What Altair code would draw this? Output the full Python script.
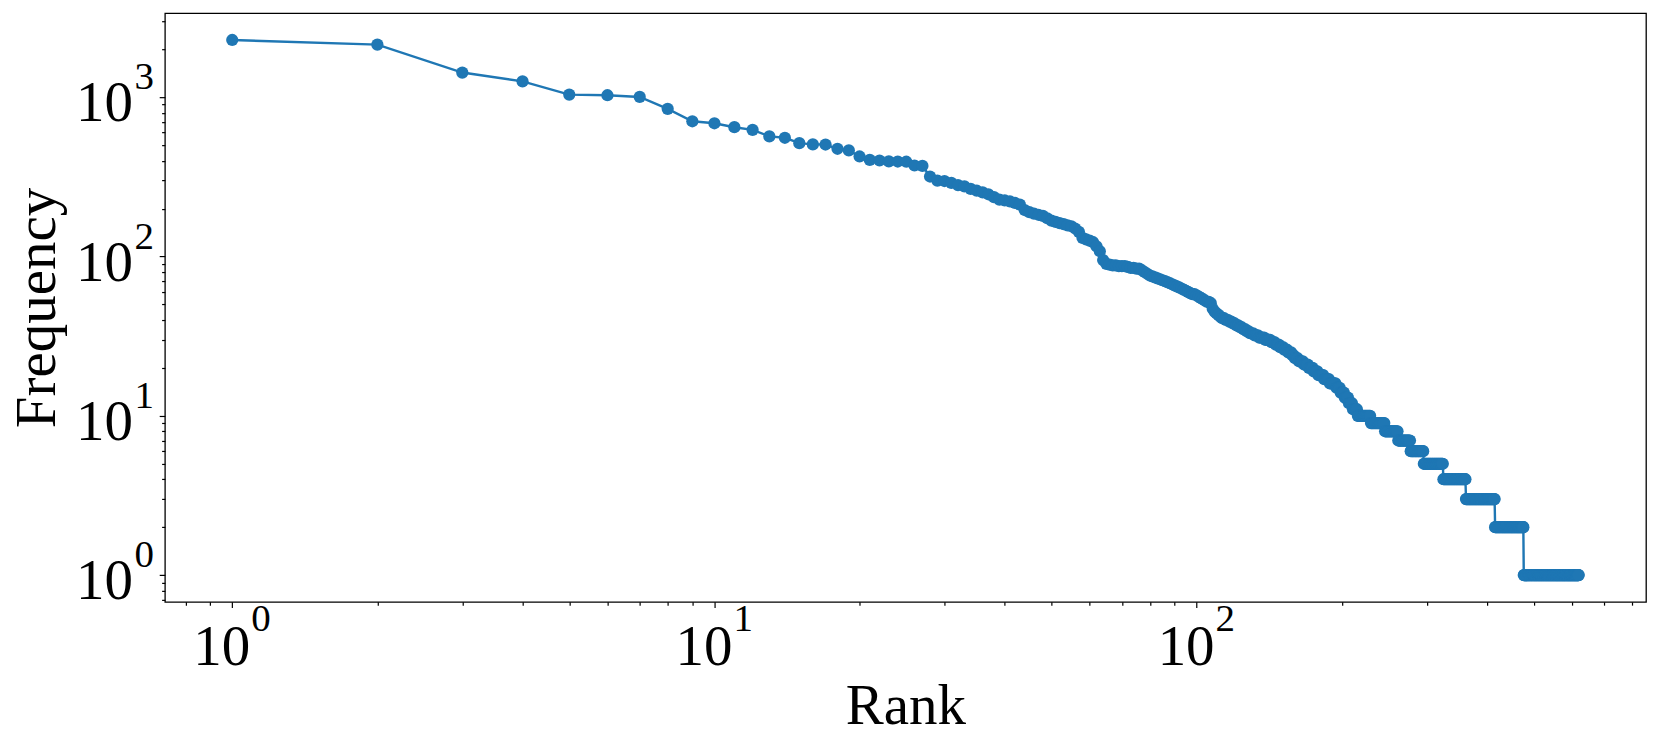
import altair as alt
import numpy as np
import pandas as pd

# Frequencies of ranks 1..114
head_freq = [2290, 2140, 1430, 1260, 1040, 1030, 1005, 846, 707, 687,
             649, 625, 568, 557, 515, 506, 505, 475, 464, 425,
             405, 401, 396, 395, 394, 373, 371, 318, 300, 298,
             290, 281, 276, 266, 259, 253, 246, 236, 228, 225,
             222, 217, 212, 196, 190, 186, 183, 180, 174, 168,
             165, 162, 160, 157, 155, 150, 143, 131, 128, 126,
             123, 116, 108, 95, 90, 89, 88, 88, 87, 87,
             87, 86, 85, 85, 84, 84, 82, 80, 78, 76,
             75, 74, 73, 72, 71, 70, 69, 68, 67, 66,
             65, 64, 63, 62, 61, 60, 59, 58, 58, 57,
             56, 55, 54, 53, 52, 52, 51, 47, 45, 44,
             43, 42, 41, 41]

# Tail: integer frequency values and how many ranks share each (plateau widths)
tail_freq = [40, 39, 38, 37, 36, 35, 34, 33, 32, 31,
             30, 29, 28, 27, 26, 25, 24, 23, 22, 21,
             20, 19, 18, 17, 16, 15, 14, 13, 12, 11,
             10, 9, 8, 7, 6, 5, 4, 3, 2, 1]
tail_count = [2, 2, 2, 2, 2, 2, 2, 3, 3, 4,
              4, 3, 3, 3, 3, 3, 2, 3, 4, 4,
              4, 4, 5, 5, 6, 4, 4, 4, 4, 5,
              14, 16, 16, 16, 18, 29, 37, 54, 61, 144]

x_tick_major = [1, 10, 100]
x_tick_labels = ["0", "1", "2"]
y_tick_major = [1, 10, 100, 1000]
y_tick_labels = ["0", "1", "2", "3"]

freq = list(head_freq)
for f, c in zip(tail_freq, tail_count):
    freq.extend([f] * c)
rank = list(range(1, len(freq) + 1))
df = pd.DataFrame({"rank": rank, "freq": freq})

W, H = 1482, 589
BLUE = "#1f77b4"
FONT = "Liberation Serif"
FS = 57
FS_EXP = 39

# matplotlib-like 5% margins in log space
lx = np.log10(len(freq))
ly = np.log10(max(freq))
x_dom = [10 ** (-0.05 * lx), 10 ** (1.05 * lx)]
y_dom = [10 ** (-0.05 * ly), 10 ** (1.05 * ly)]

def minor_ticks(lo, hi):
    out = []
    for d in range(-1, 5):
        for m in range(1, 10):
            v = round(m * 10 ** d, 6)
            if lo <= v <= hi:
                out.append(v)
    return out

x_ticks = minor_ticks(x_dom[0], x_dom[1])
y_ticks = minor_ticks(y_dom[0], y_dom[1])
MAJOR = "datum.value === 1 || datum.value === 10 || datum.value === 100 || datum.value === 1000"

xscale = alt.Scale(type="log", domain=x_dom, nice=False)
yscale = alt.Scale(type="log", domain=y_dom, nice=False)

x_axis = alt.Axis(values=x_ticks, labels=False, domain=False, grid=False,
                  tickColor="black", tickWidth=1.2,
                  tickSize={"condition": {"test": MAJOR, "value": 5.7}, "value": 3.3},
                  title="Rank", titleFont=FONT, titleFontSize=FS, titleFontWeight="normal",
                  titleColor="black", titleX=W / 2, titleY=122, titleBaseline="alphabetic",
                  titleAlign="center")
y_axis = alt.Axis(values=y_ticks, labels=False, domain=False, grid=False,
                  tickColor="black", tickWidth=1.2,
                  tickSize={"condition": {"test": MAJOR, "value": 5.7}, "value": 3.3},
                  title="Frequency", titleFont=FONT, titleFontSize=FS, titleFontWeight="normal",
                  titleColor="black", titleX=-110, titleY=H / 2, titleAngle=270,
                  titleBaseline="alphabetic", titleAlign="center")

X = alt.X("rank:Q", scale=xscale, axis=x_axis)
Y = alt.Y("freq:Q", scale=yscale, axis=y_axis)

line = alt.Chart(df).mark_line(color=BLUE, strokeWidth=2.4).encode(x=X, y=Y)
pts = alt.Chart(df).mark_circle(color=BLUE, size=150, opacity=1).encode(x=X, y=Y)

xl = pd.DataFrame({"rank": x_tick_major, "base": ["10"] * len(x_tick_major), "exp": x_tick_labels})
yl = pd.DataFrame({"freq": y_tick_major, "base": ["10"] * len(y_tick_major), "exp": y_tick_labels})

x_base = alt.Chart(xl).mark_text(font=FONT, fontSize=FS, align="right", baseline="alphabetic",
                                 dx=18, color="black").encode(x=X, y=alt.value(H + 63), text="base:N")
x_exp = alt.Chart(xl).mark_text(font=FONT, fontSize=FS_EXP, align="left", baseline="alphabetic",
                                dx=19, color="black").encode(x=X, y=alt.value(H + 29), text="exp:N")
y_base = alt.Chart(yl).mark_text(font=FONT, fontSize=FS, align="right", baseline="alphabetic",
                                 dy=24, color="black").encode(y=Y, x=alt.value(-32), text="base:N")
y_exp = alt.Chart(yl).mark_text(font=FONT, fontSize=FS_EXP, align="right", baseline="alphabetic",
                                dy=-8, color="black").encode(y=Y, x=alt.value(-11), text="exp:N")

chart = alt.layer(line, pts, x_base, x_exp, y_base, y_exp).properties(
    width=W, height=H,
    padding={"left": 157, "top": 5, "right": 8, "bottom": 140},
    autosize="none",
    background="white",
).configure_view(stroke="black", strokeWidth=1.3)

chart.save("out.html", embed_options={"renderer": "svg", "actions": False})
